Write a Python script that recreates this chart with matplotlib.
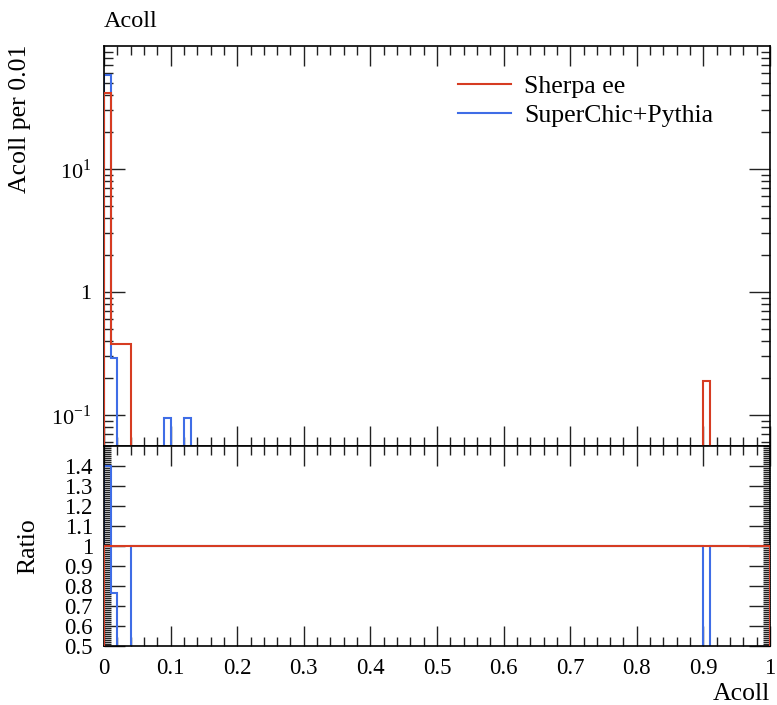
import numpy as np
import matplotlib
matplotlib.use("Agg")
import matplotlib.pyplot as plt
from matplotlib.ticker import MultipleLocator, FixedLocator, NullFormatter, LogLocator, FixedFormatter

plt.rcParams['font.family'] = ['Liberation Serif', 'DejaVu Serif']
plt.rcParams['mathtext.fontset'] = 'custom'
plt.rcParams['mathtext.rm'] = 'Liberation Serif'

# ---- data (bin width 0.01, 0..1) ----
bin_width = 0.01
n_bins = 100
sherpa_bins = [0, 1, 2, 3, 90]
sherpa_vals = [41.5, 0.38, 0.38, 0.38, 0.19]
superchic_bins = [0, 1, 9, 12]
superchic_vals = [58.0, 0.29, 0.095, 0.095]

labels = ["Sherpa ee", "SuperChic+Pythia"]
colors = ["#d63c22", "#3f6de6"]
xtick_labels = ["0", "0.1", "0.2", "0.3", "0.4", "0.5", "0.6", "0.7", "0.8", "0.9", "1"]
ratio_ticks = [0.5, 0.6, 0.7, 0.8, 0.9, 1.0, 1.1, 1.2, 1.3, 1.4]
ratio_tick_labels = ["0.5", "0.6", "0.7", "0.8", "0.9", "1", "1.1", "1.2", "1.3", "1.4"]

edges = np.linspace(0, 1, n_bins + 1)
sherpa = np.zeros(n_bins)
sherpa[sherpa_bins] = sherpa_vals
superchic = np.zeros(n_bins)
superchic[superchic_bins] = superchic_vals

ratio_ref = np.ones(n_bins)
ratio_sc = np.ones(n_bins)
mask = sherpa > 0
ratio_sc[mask] = superchic[mask] / sherpa[mask]

W, H = 777, 705
fig = plt.figure(figsize=(W / 100, H / 100), dpi=100)
L, R = 104, 770
ax = fig.add_axes([L / W, 1 - 446 / H, (R - L) / W, (446 - 46) / H])
axr = fig.add_axes([L / W, 1 - 646 / H, (R - L) / W, (646 - 446) / H])

tiny = 1e-12
lw = 1.5
ax.stairs(np.where(sherpa > 0, sherpa, tiny), edges, color=colors[0], lw=lw, label=labels[0], zorder=3)
ax.stairs(np.where(superchic > 0, superchic, tiny), edges, color=colors[1], lw=lw, label=labels[1], zorder=2)
ax.set_yscale('log')
ax.set_xlim(0, 1)
ax.set_ylim(10 ** -1.252, 100)

axr.stairs(np.where(ratio_sc > 0, ratio_sc, -10), edges, color=colors[1], lw=lw, zorder=2)
axr.stairs(ratio_ref, edges, color=colors[0], lw=lw, zorder=3)
axr.set_xlim(0, 1)
axr.set_ylim(0.5, 1.5)

for a in (ax, axr):
    a.xaxis.set_major_locator(MultipleLocator(0.1))
    a.xaxis.set_minor_locator(MultipleLocator(0.02))
    a.tick_params(which='both', direction='in', top=True, right=True, width=1.0, color='#222222')
    a.tick_params(which='major', length=14.5)
    a.tick_params(which='minor', length=6.5)
    for s in a.spines.values():
        s.set_linewidth(1.2)

ax.yaxis.set_major_locator(FixedLocator([0.1, 1, 10]))
ax.yaxis.set_major_formatter(FixedFormatter([r"$10^{-1}$", "1", r"$10^{1}$"]))
ax.yaxis.set_minor_locator(LogLocator(base=10, subs=np.arange(2, 10)))
ax.yaxis.set_minor_formatter(NullFormatter())
ax.xaxis.set_major_formatter(NullFormatter())
ax.tick_params(axis='y', which='major', length=15, labelsize=16, pad=9)

axr.yaxis.set_major_locator(FixedLocator(ratio_ticks))
axr.yaxis.set_major_formatter(FixedFormatter(ratio_tick_labels))
axr.yaxis.set_minor_locator(MultipleLocator(0.01))
axr.tick_params(axis='y', which='minor', length=5)
axr.tick_params(axis='y', which='major', length=15, labelsize=16.5, pad=8)
axr.xaxis.set_major_locator(FixedLocator(np.linspace(0, 1, 11)))
axr.xaxis.set_major_formatter(FixedFormatter(xtick_labels))
axr.tick_params(axis='x', which='major', labelsize=16.5, pad=9)

leg = ax.legend(loc='upper left', bbox_to_anchor=(458 / W, 1 - 75 / H), bbox_transform=fig.transFigure,
                frameon=False, fontsize=18.5, handlelength=2.05, handletextpad=0.52,
                borderpad=0, borderaxespad=0, labelspacing=0.22)

fig.text(L / W, 1 - 27 / H, "Acoll", fontsize=17.5, ha='left', va='baseline')
fig.text(20 / W, 1 - 45 / H, "Acoll per 0.01", fontsize=18.5, rotation=90, ha='center', va='top')
fig.text(28 / W, 1 - 546 / H, "Ratio", fontsize=18.5, rotation=90, ha='center', va='center')
fig.text(R / W, 1 - 700 / H, "Acoll", fontsize=18.5, ha='right', va='baseline')

fig.savefig("out.png", dpi=100)
